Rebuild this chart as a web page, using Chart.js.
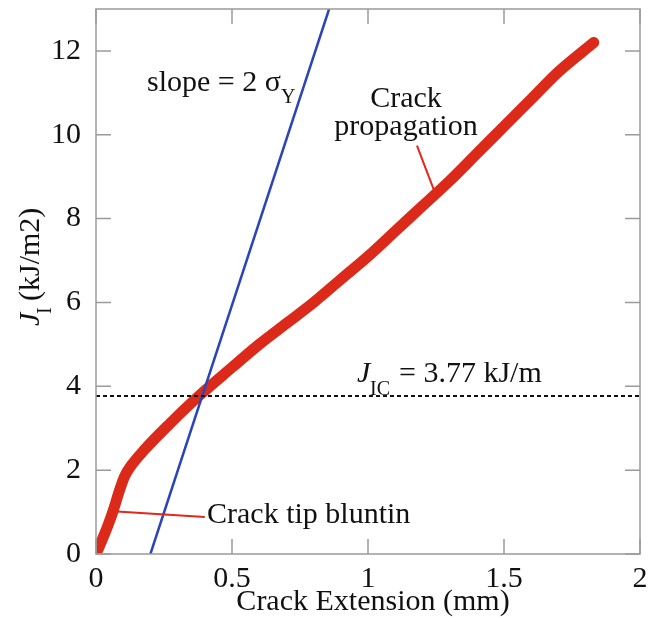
<!DOCTYPE html>
<html>
<head>
<meta charset="utf-8">
<script src="https://cdn.jsdelivr.net/npm/chart.js@4"></script>
<style>
  html, body { margin: 0; padding: 0; background: #fff; }
  #wrap { width: 655px; height: 617px; }
</style>
</head>
<body>
<div id="wrap"><canvas id="jrChart" width="655" height="617"></canvas></div>
<script>
// J-R curve: crack extension (mm) vs J (kJ/m2)
const crackExt = [0, 0.022, 0.045, 0.0625, 0.088, 0.105, 0.125, 0.18, 0.27, 0.38, 0.5, 0.6, 0.7, 0.8, 0.9, 1.0, 1.1, 1.2, 1.3, 1.4, 1.5, 1.6, 1.7, 1.83];
const jValues  = [0, 0.33, 0.7, 1.02, 1.55, 1.85, 2.07, 2.5, 3.1, 3.78, 4.45, 5.0, 5.5, 6.0, 6.55, 7.1, 7.7, 8.3, 8.9, 9.55, 10.2, 10.85, 11.5, 12.2];

// blunting line, slope = 2 sigma_Y
const bluntX = [0.2, 0.857];
const bluntJ = [0, 13];

const jIc = 3.77;
const xTicks = [0, 0.5, 1, 1.5, 2];
const yTicks = [0, 2, 4, 6, 8, 10, 12];

const SERIF = '"Liberation Serif", "DejaVu Serif", serif';
const FS = 30;
const SUB = 20;

// leader lines for the labels, in data units
const leaderProp = [[1.18, 9.74], [1.246, 8.62]];
const leaderBlunt = [[0.0625, 1.02], [0.40, 0.88]];

const framePlugin = {
  id: 'frameAndNotes',
  afterDatasetsDraw(chart) {
    const { ctx, chartArea: a, scales: { x, y } } = chart;
    ctx.save();
    // frame + inward ticks
    ctx.strokeStyle = '#9a9a9a';
    ctx.lineWidth = 1.5;
    ctx.strokeRect(a.left, a.top, a.right - a.left, a.bottom - a.top);
    const tl = 15;
    ctx.beginPath();
    xTicks.forEach(v => {
      const px = x.getPixelForValue(v);
      ctx.moveTo(px, a.bottom); ctx.lineTo(px, a.bottom - tl);
      ctx.moveTo(px, a.top); ctx.lineTo(px, a.top + tl);
    });
    yTicks.forEach(v => {
      const py = y.getPixelForValue(v);
      ctx.moveTo(a.left, py); ctx.lineTo(a.left + tl, py);
      ctx.moveTo(a.right, py); ctx.lineTo(a.right - tl, py);
    });
    ctx.stroke();

    // leader lines
    ctx.strokeStyle = '#e0281c';
    ctx.lineWidth = 2;
    [leaderProp, leaderBlunt].forEach(seg => {
      ctx.beginPath();
      ctx.moveTo(x.getPixelForValue(seg[0][0]), y.getPixelForValue(seg[0][1]));
      ctx.lineTo(x.getPixelForValue(seg[1][0]), y.getPixelForValue(seg[1][1]));
      ctx.stroke();
    });

    ctx.fillStyle = '#111';
    ctx.textBaseline = 'alphabetic';
    ctx.textAlign = 'left';
    ctx.font = FS + 'px ' + SERIF;

    // slope label
    ctx.fillText('slope = 2 \u03c3', 147, 91);
    const sw = ctx.measureText('slope = 2 \u03c3').width;
    ctx.font = SUB + 'px ' + SERIF;
    ctx.fillText('Y', 147 + sw, 103);

    // crack propagation
    ctx.font = FS + 'px ' + SERIF;
    ctx.textAlign = 'center';
    ctx.fillText('Crack', 406, 107);
    ctx.fillText('propagation', 406, 135);

    // crack tip blunting
    ctx.textAlign = 'left';
    ctx.fillText('Crack tip bluntin', 207, 523);

    // J_IC label
    ctx.font = 'italic ' + FS + 'px ' + SERIF;
    ctx.fillText('J', 357, 382);
    ctx.font = SUB + 'px ' + SERIF;
    ctx.fillText('IC', 370, 395);
    ctx.font = FS + 'px ' + SERIF;
    ctx.fillText('= 3.77 kJ/m', 399, 382);

    // axis titles
    ctx.textAlign = 'center';
    ctx.fillText('Crack Extension (mm)', 373, 610);

    ctx.translate(39, 326);
    ctx.rotate(-Math.PI / 2);
    ctx.textAlign = 'left';
    ctx.font = 'italic ' + FS + 'px ' + SERIF;
    ctx.fillText('J', 0, 0);
    ctx.font = SUB + 'px ' + SERIF;
    ctx.fillText('I', 12, 12);
    ctx.font = FS + 'px ' + SERIF;
    ctx.fillText('(kJ/m2)', 25, 0);
    ctx.restore();
  }
};

new Chart(document.getElementById('jrChart'), {
  type: 'scatter',
  data: {
    datasets: [
      {
        label: 'J_IC',
        data: [{ x: 0, y: jIc }, { x: 2, y: jIc }],
        showLine: true,
        borderColor: '#111',
        borderWidth: 2,
        borderDash: [4, 3],
        pointRadius: 0
      },
      {
        label: 'Blunting line',
        data: bluntX.map((v, i) => ({ x: v, y: bluntJ[i] })),
        showLine: true,
        borderColor: '#2b44b8',
        borderWidth: 2.5,
        pointRadius: 0
      },
      {
        label: 'J-R curve',
        data: crackExt.map((v, i) => ({ x: v, y: jValues[i] })),
        showLine: true,
        borderColor: '#dc2a1a',
        borderWidth: 11,
        borderCapStyle: 'round',
        borderJoinStyle: 'round',
        cubicInterpolationMode: 'monotone',
        pointRadius: 0
      }
    ]
  },
  options: {
    responsive: false,
    animation: false,
    events: [],
    layout: { autoPadding: false, padding: { top: 9, right: 15, left: 0, bottom: 0 } },
    plugins: { legend: { display: false }, tooltip: { enabled: false } },
    scales: {
      x: {
        type: 'linear', min: 0, max: 2,
        afterBuildTicks: s => { s.ticks = xTicks.map(v => ({ value: v })); },
        afterFit: s => { s.height = 63; s.paddingLeft = 0; s.paddingRight = 0; },
        grid: { display: false, drawTicks: false },
        border: { display: false },
        ticks: {
          padding: 7,
          color: '#111',
          font: { family: SERIF, size: FS },
          callback: v => String(v)
        }
      },
      y: {
        type: 'linear', min: 0, max: 13,
        afterBuildTicks: s => { s.ticks = yTicks.map(v => ({ value: v })); },
        afterFit: s => { s.width = 96; s.paddingTop = 0; s.paddingBottom = 0; },
        grid: { display: false, drawTicks: false },
        border: { display: false },
        ticks: {
          padding: 15,
          color: '#111',
          font: { family: SERIF, size: FS },
          callback: v => String(v)
        }
      }
    }
  },
  plugins: [framePlugin]
});
</script>
</body>
</html>
